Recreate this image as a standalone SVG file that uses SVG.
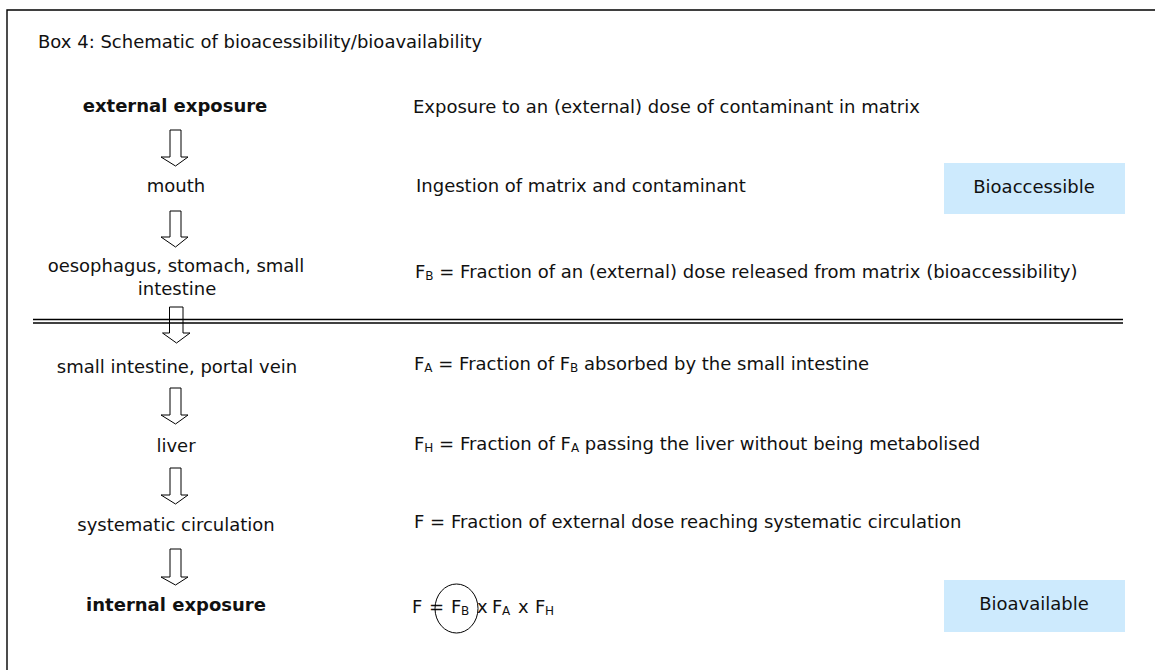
<svg xmlns="http://www.w3.org/2000/svg" width="1155" height="670" viewBox="0 0 1155 670">
<style>
text{font-family:"DejaVu Sans",Verdana,sans-serif;fill:#111;font-size:18px}
.c{text-anchor:middle}
.b{font-weight:bold}
.s{font-size:12px}
.arr{fill:#fff;stroke:#000;stroke-width:1}
.lbl{fill:#cdeafd}
</style>
<rect width="1155" height="670" fill="#fff"/>
<g id="frame">
<path d="M7,670 V10 H1155" fill="none" stroke="#000" stroke-width="1.4"/>
<text x="38" y="48">Box 4: Schematic of bioacessibility/bioavailability</text>
</g>
<g id="n-external"><text class="c b" x="175" y="112">external exposure</text></g>
<g id="n-mouth"><text class="c" x="176" y="192">mouth</text></g>
<g id="n-oesophagus"><text class="c" x="176" y="272">oesophagus, stomach, small</text><text class="c" x="177" y="295">intestine</text></g>
<g id="n-small"><text class="c" x="177" y="373">small intestine, portal vein</text></g>
<g id="n-liver"><text class="c" x="176" y="452">liver</text></g>
<g id="n-systematic"><text class="c" x="176" y="531">systematic circulation</text></g>
<g id="n-internal"><text class="c b" x="176" y="611">internal exposure</text></g>
<g id="descriptions">
<text x="413" y="113">Exposure to an (external) dose of contaminant in matrix</text>
<text x="416" y="192">Ingestion of matrix and contaminant</text>
<text x="415" y="278">F<tspan class="s" dy="2">B</tspan><tspan dy="-2"> = Fraction of an (external) dose released from matrix (bioaccessibility)</tspan></text>
<text x="414" y="370">F<tspan class="s" dy="2">A</tspan><tspan dy="-2"> = Fraction of F</tspan><tspan class="s" dy="2">B</tspan><tspan dy="-2"> absorbed by the small intestine</tspan></text>
<text x="414" y="450">F<tspan class="s" dy="2">H</tspan><tspan dy="-2"> = Fraction of F</tspan><tspan class="s" dy="2">A</tspan><tspan dy="-2"> passing the liver without being metabolised</tspan></text>
<text x="414" y="528">F = Fraction of external dose reaching systematic circulation</text>
<text y="613"><tspan x="412">F</tspan><tspan x="429">=</tspan><tspan x="451">F</tspan><tspan class="s" x="461" dy="2">B</tspan><tspan x="477" dy="-2">x</tspan><tspan x="492">F</tspan><tspan class="s" x="502" dy="2">A</tspan><tspan x="518" dy="-2">x</tspan><tspan x="535">F</tspan><tspan class="s" x="545" dy="2">H</tspan></text>
<ellipse cx="456.5" cy="608.5" rx="21.5" ry="24.5" fill="none" stroke="#000" stroke-width="1"/>
</g>
<g id="n-bioaccessible"><rect class="lbl" x="944" y="163" width="181" height="51"/><text class="c" x="1034" y="193">Bioaccessible</text></g>
<g id="n-bioavailable"><rect class="lbl" x="944" y="580" width="181" height="52"/><text class="c" x="1034" y="610">Bioavailable</text></g>
<g id="connectors">
<path class="arr" d="M170,130 H181 V157 H188 L175.5,166 L161,157 H170 Z"/>
<path class="arr" d="M170,211 H181 V237 H188 L175.5,247 L161,237 H170 Z"/>
<path class="arr" d="M169.5,307 H183 V333 H190 L176.5,343 L162.5,333 H169.5 Z"/>
<path class="arr" d="M170,388 H181 V415 H188 L175.5,424 L161,415 H170 Z"/>
<path class="arr" d="M170,468 H181 V495 H188 L175.5,504 L161,495 H170 Z"/>
<path class="arr" d="M170,549 H181 V577 H188 L175.5,585 L161,577 H170 Z"/>
</g>
<g id="divider">
<line x1="33" y1="319.5" x2="1123" y2="319.5" stroke="#000" stroke-width="1.4"/>
<line x1="33" y1="323" x2="1123" y2="323" stroke="#000" stroke-width="1.4"/>
</g>
</svg>
